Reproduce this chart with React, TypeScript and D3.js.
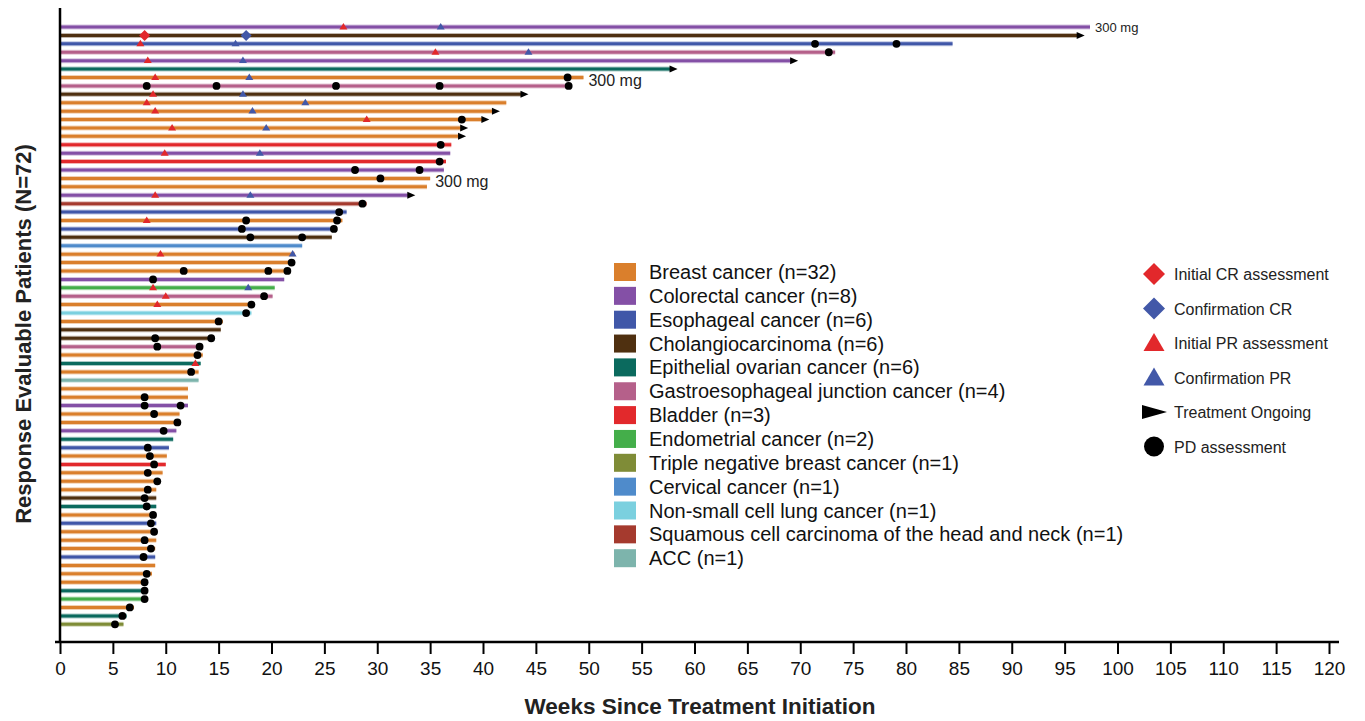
import React, { useEffect, useRef } from 'react';
import * as d3 from 'd3';

// cancer types, in legend order
const cancerCodes = ['BR', 'CRC', 'ESO', 'CHO', 'EOC', 'GEJ', 'BLA', 'END', 'TNBC', 'CER', 'NSCLC', 'SCCHN', 'ACC'];
const cancerLabels = [
    'Breast cancer (n=32)',
    'Colorectal cancer (n=8)',
    'Esophageal cancer (n=6)',
    'Cholangiocarcinoma (n=6)',
    'Epithelial ovarian cancer (n=6)',
    'Gastroesophageal junction cancer (n=4)',
    'Bladder (n=3)',
    'Endometrial cancer (n=2)',
    'Triple negative breast cancer (n=1)',
    'Cervical cancer (n=1)',
    'Non-small cell lung cancer (n=1)',
    'Squamous cell carcinoma of the head and neck (n=1)',
    'ACC (n=1)',
];
const cancerColors = ['#da7f2c', '#8450a6', '#4057a8', '#4f3010', '#0b6a5e', '#b5608a', '#e2292c', '#44ae4a', '#7f8c37', '#4f8bcb', '#7bd0df', '#a53a2e', '#7db4ac'];

// one entry per patient, top to bottom
const patientCancer = [
    'CRC', 'CHO', 'ESO', 'GEJ', 'CRC', 'EOC', 'BR', 'GEJ', 'CHO', 'BR',
    'BR', 'BR', 'BR', 'BR', 'BLA', 'CRC', 'BLA', 'CRC', 'BR', 'BR',
    'CRC', 'SCCHN', 'ESO', 'BR', 'ESO', 'CHO', 'CER', 'BR', 'BR', 'BR',
    'CRC', 'END', 'GEJ', 'BR', 'NSCLC', 'BR', 'CHO', 'CHO', 'GEJ', 'BR',
    'EOC', 'BR', 'ACC', 'BR', 'BR', 'CRC', 'BR', 'BR', 'CRC', 'EOC',
    'ESO', 'BR', 'BLA', 'BR', 'BR', 'BR', 'CHO', 'EOC', 'BR', 'ESO',
    'BR', 'BR', 'BR', 'ESO', 'BR', 'BR', 'BR', 'EOC', 'END', 'BR',
    'EOC', 'TNBC',
];
const patientWeeks = [
    97.4, 96.9, 84.4, 73.3, 69.8, 58.4, 49.5, 48.3, 44.3, 42.2,
    41.6, 40.6, 38.6, 38.4, 37.0, 36.9, 36.5, 36.3, 35.0, 34.7,
    33.6, 29.0, 27.1, 26.7, 26.0, 25.7, 22.9, 22.2, 22.2, 21.7,
    21.2, 20.3, 20.1, 18.3, 18.1, 15.4, 15.2, 14.5, 13.4, 13.5,
    13.3, 13.1, 13.1, 12.1, 12.1, 12.1, 11.3, 11.3, 11.0, 10.7,
    10.3, 10.1, 10.0, 9.7, 9.3, 9.1, 9.1, 9.1, 9.0, 9.1,
    9.1, 9.1, 9.0, 9.0, 9.0, 8.7, 8.2, 8.1, 8.1, 7.0,
    6.3, 6.0,
];
const ongoingRows = [2, 5, 6, 9, 11, 12, 13, 14, 21];

// [patient row, week]
const initialCR = [[2, 8.0]];
const confirmCR = [[2, 17.6]];
const initialPR = [
    [1, 26.8], [3, 7.6], [4, 35.5], [5, 8.3], [7, 9.0], [9, 8.8], [10, 8.2], [11, 9.0], [12, 29.0],
    [13, 10.6], [16, 9.9], [21, 9.0], [24, 8.2], [28, 9.5], [32, 8.8], [33, 10.0], [34, 9.2], [41, 12.8],
];
const confirmPR = [
    [1, 36.0], [3, 16.6], [4, 44.3], [5, 17.3], [7, 17.9], [9, 17.3], [10, 23.2], [11, 18.2],
    [13, 19.5], [16, 18.9], [21, 18.0], [28, 22.0], [32, 17.8],
];
const pdAssessment = [
    [3, 71.4], [3, 79.1], [4, 72.7], [7, 48.0], [8, 8.2], [8, 14.8], [8, 26.1], [8, 35.9], [8, 48.1],
    [12, 38.0], [15, 36.0], [17, 35.9], [18, 27.9], [18, 34.0], [19, 30.3], [22, 28.6], [23, 26.4],
    [24, 17.6], [24, 26.2], [25, 17.2], [25, 25.9], [26, 18.0], [26, 22.9], [29, 21.9],
    [30, 11.7], [30, 19.7], [30, 21.5], [31, 8.8], [33, 19.3], [34, 18.1], [35, 17.6], [36, 15.0],
    [38, 9.0], [38, 14.3], [39, 9.2], [39, 13.2], [40, 13.0], [42, 12.4], [45, 8.0], [46, 8.0], [46, 11.4],
    [47, 8.9], [48, 11.1], [49, 9.8], [51, 8.3], [52, 8.5], [53, 8.9], [54, 8.3], [55, 9.2], [56, 8.3],
    [57, 8.0], [58, 8.2], [59, 8.8], [60, 8.6], [61, 8.9], [62, 8.0], [63, 8.6], [64, 7.9], [66, 8.2],
    [67, 8.0], [68, 8.0], [69, 8.0], [70, 6.6], [71, 5.9], [72, 5.2],
];
const doseNotes = [[1, '300 mg'], [7, '300 mg'], [19, '300 mg']];

const weekTicks = [0, 5, 10, 15, 20, 25, 30, 35, 40, 45, 50, 55, 60, 65, 70, 75, 80, 85, 90, 95, 100, 105, 110, 115, 120];
const markerLabels = ['Initial CR assessment', 'Confirmation CR', 'Initial PR assessment', 'Confirmation PR', 'Treatment Ongoing', 'PD assessment'];

const RED = '#e2282b';
const BLUE = '#4258a8';
const FONT = '"Liberation Sans", Arial, Helvetica, sans-serif';

const diamond = (cx, cy, r) => `M${cx},${cy - r}L${cx + r},${cy}L${cx},${cy + r}L${cx - r},${cy}Z`;
const triangle = (cx, cy, w, h) => `M${cx - w / 2},${cy + h / 2}L${cx},${cy - h / 2}L${cx + w / 2},${cy + h / 2}Z`;
const arrowHead = (tip, cy, w, h) => `M${tip - w},${cy - h / 2}L${tip},${cy}L${tip - w},${cy + h / 2}Z`;

function App() {
    const svgRef = useRef();

    useEffect(() => {
        const width = 1365;
        const height = 721;

        const svg = d3.select(svgRef.current);
        svg.selectAll('*').remove();
        svg.attr('width', width).attr('height', height).style('font-family', FONT);

        const x = d3.scaleLinear().domain([0, 120]).range([60, 1329]);
        const y = d3.scalePoint().domain(d3.range(1, patientCancer.length + 1)).range([27, 624.3]);
        const color = d3.scaleOrdinal().domain(cancerCodes).range(cancerColors);

        const rows = patientCancer.map((type, i) => ({
            row: i + 1,
            type,
            weeks: patientWeeks[i],
            ongoing: ongoingRows.includes(i + 1),
        }));

        // swimmer bars (light halo + solid core)
        const bars = svg.append('g');
        bars.selectAll('line.halo')
            .data(rows)
            .join('line')
            .attr('class', 'halo')
            .attr('x1', x(0))
            .attr('x2', (d) => x(d.weeks) - (d.ongoing ? 6 : 0))
            .attr('y1', (d) => y(d.row))
            .attr('y2', (d) => y(d.row))
            .attr('stroke', (d) => color(d.type))
            .attr('stroke-opacity', 0.35)
            .attr('stroke-width', 5);
        bars.selectAll('line.core')
            .data(rows)
            .join('line')
            .attr('class', 'core')
            .attr('x1', x(0))
            .attr('x2', (d) => x(d.weeks) - (d.ongoing ? 6 : 0))
            .attr('y1', (d) => y(d.row))
            .attr('y2', (d) => y(d.row))
            .attr('stroke', (d) => color(d.type))
            .attr('stroke-width', 3);

        // treatment ongoing arrows
        svg.append('g')
            .selectAll('path')
            .data(rows.filter((d) => d.ongoing))
            .join('path')
            .attr('d', (d) => arrowHead(x(d.weeks), y(d.row), 8, 7))
            .attr('fill', '#000');

        const marks = svg.append('g');
        marks.selectAll('path.icr')
            .data(initialCR)
            .join('path')
            .attr('class', 'icr')
            .attr('d', (d) => diamond(x(d[1]), y(d[0]), 5.5))
            .attr('fill', RED);
        marks.selectAll('path.ccr')
            .data(confirmCR)
            .join('path')
            .attr('class', 'ccr')
            .attr('d', (d) => diamond(x(d[1]), y(d[0]), 5.5))
            .attr('fill', BLUE);
        marks.selectAll('path.ipr')
            .data(initialPR)
            .join('path')
            .attr('class', 'ipr')
            .attr('d', (d) => triangle(x(d[1]), y(d[0]) - 0.8, 8, 6.5))
            .attr('fill', RED);
        marks.selectAll('path.cpr')
            .data(confirmPR)
            .join('path')
            .attr('class', 'cpr')
            .attr('d', (d) => triangle(x(d[1]), y(d[0]) - 0.8, 8, 6.5))
            .attr('fill', BLUE);
        marks.selectAll('circle.pd')
            .data(pdAssessment)
            .join('circle')
            .attr('class', 'pd')
            .attr('cx', (d) => x(d[1]))
            .attr('cy', (d) => y(d[0]))
            .attr('r', 3.9)
            .attr('fill', '#000');

        // dose notes
        svg.append('g')
            .selectAll('text')
            .data(doseNotes)
            .join('text')
            .attr('x', (d) => x(patientWeeks[d[0] - 1]) + 5)
            .attr('y', (d) => y(d[0]) + (d[0] === 1 ? 5 : 9))
            .style('font-size', (d) => (d[0] === 1 ? '13px' : '16px'))
            .attr('fill', '#222')
            .text((d) => d[1]);

        // axes
        svg.append('line')
            .attr('x1', 60).attr('x2', 60)
            .attr('y1', 8).attr('y2', 643)
            .attr('stroke', '#000').attr('stroke-width', 2.5);
        svg.append('line')
            .attr('x1', 55).attr('x2', 1339)
            .attr('y1', 642).attr('y2', 642)
            .attr('stroke', '#000').attr('stroke-width', 2.5);

        const xAxis = svg.append('g')
            .attr('transform', 'translate(0, 642)')
            .call(d3.axisBottom(x).tickValues(weekTicks).tickSize(12).tickSizeOuter(0).tickPadding(8));
        xAxis.select('.domain').remove();
        xAxis.selectAll('line').attr('stroke', '#000').attr('stroke-width', 2);
        xAxis.selectAll('text')
            .attr('fill', '#111')
            .style('font-size', '19px')
            .style('font-family', FONT);

        svg.append('text')
            .attr('x', 700)
            .attr('y', 714)
            .attr('text-anchor', 'middle')
            .style('font-size', '22.5px')
            .style('font-weight', 'bold')
            .attr('fill', '#222')
            .text('Weeks Since Treatment Initiation');

        svg.append('text')
            .attr('transform', 'translate(31, 334) rotate(-90)')
            .attr('text-anchor', 'middle')
            .style('font-size', '22px')
            .style('font-weight', 'bold')
            .attr('fill', '#222')
            .text('Response Evaluable Patients (N=72)');

        // cancer type legend
        const legend = svg.append('g');
        const legendRows = legend.selectAll('g')
            .data(cancerLabels)
            .join('g')
            .attr('transform', (d, i) => `translate(614, ${272 + i * 23.85})`);
        legendRows.append('rect')
            .attr('x', 0).attr('y', -9)
            .attr('width', 22).attr('height', 18)
            .attr('fill', (d, i) => cancerColors[i]);
        legendRows.append('text')
            .attr('x', 35).attr('y', 7)
            .style('font-size', '20px')
            .attr('fill', '#111')
            .text((d) => d);

        // marker legend
        const mLegend = svg.append('g');
        const mRows = mLegend.selectAll('g')
            .data(markerLabels)
            .join('g')
            .attr('transform', (d, i) => `translate(1154, ${274 + i * 34.5})`);
        mRows.append('path')
            .attr('d', (d, i) => {
                if (i < 2) return diamond(0, 0, 11);
                if (i < 4) return triangle(0, -1, 21, 18);
                if (i === 4) return arrowHead(13, 0, 25, 14);
                return '';
            })
            .attr('fill', (d, i) => (i === 0 || i === 2 ? RED : i === 1 || i === 3 ? BLUE : '#000'));
        mRows.filter((d, i) => i === 5)
            .append('circle')
            .attr('r', 10)
            .attr('fill', '#000');
        mRows.append('text')
            .attr('x', 20).attr('y', 6)
            .style('font-size', '16px')
            .attr('fill', '#222')
            .text((d) => d);
    }, []);

    return (
        <div style={{ position: 'absolute', left: 0, top: 0 }}>
            <svg ref={svgRef} style={{ display: 'block', background: '#fff' }}></svg>
        </div>
    );
}

export default App;
